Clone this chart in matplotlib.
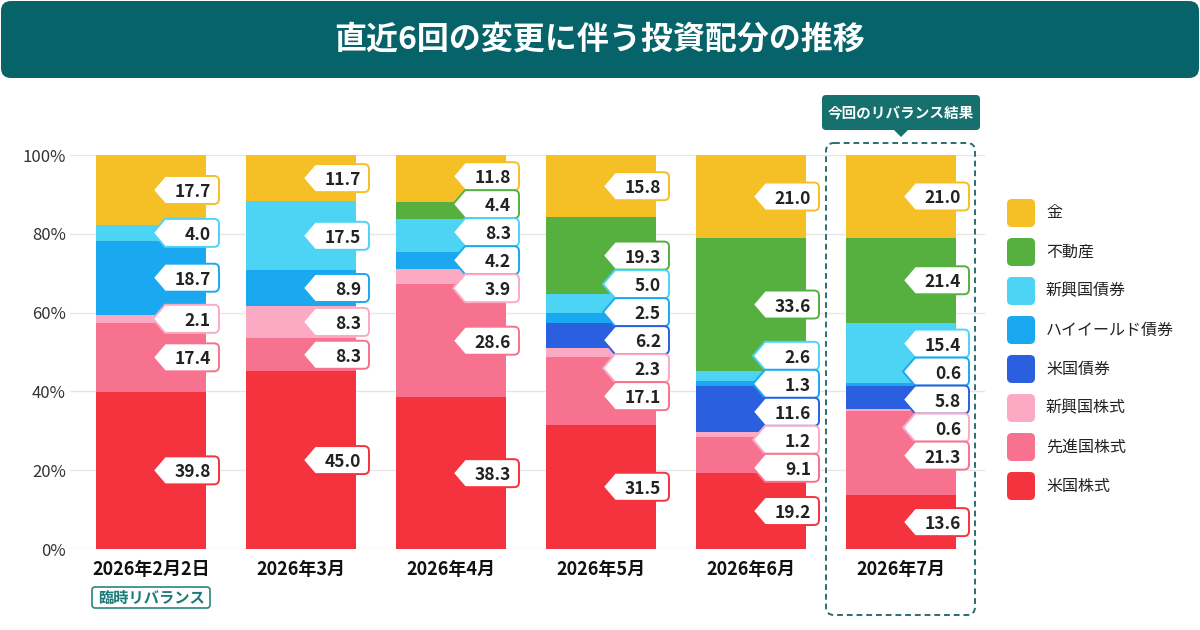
import numpy as np
import matplotlib.pyplot as plt
import matplotlib.transforms as mtransforms
from matplotlib.patches import FancyBboxPatch, PathPatch, Polygon
from matplotlib.path import Path

plt.rcParams['font.family'] = ['Noto Sans CJK JP', 'DejaVu Sans']

periods = ["2026年2月2日", "2026年3月", "2026年4月", "2026年5月", "2026年6月", "2026年7月"]

# bottom -> top
series = ["米国株式", "先進国株式", "新興国株式", "米国債券", "ハイイールド債券", "新興国債券", "不動産", "金"]
us_stock = [39.8, 45.0, 38.3, 31.5, 19.2, 13.6]
dev_stock = [17.4, 8.3, 28.6, 17.1, 9.1, 21.3]
em_stock = [2.1, 8.3, 3.9, 2.3, 1.2, 0.6]
us_bond = [0, 0, 0, 6.2, 11.6, 5.8]
hy_bond = [18.7, 8.9, 4.2, 2.5, 1.3, 0.6]
em_bond = [4.0, 17.5, 8.3, 5.0, 2.6, 15.4]
reit = [0, 0, 4.4, 19.3, 33.6, 21.4]
gold = [17.7, 11.7, 11.8, 15.8, 21.0, 21.0]
colors = ["#f5333f", "#f7728e", "#fca9c4", "#2a5fe0", "#1aa8f0", "#4dd4f5", "#55b040", "#f5bf26"]

values = np.array([us_stock, dev_stock, em_stock, us_bond, hy_bond, em_bond, reit, gold])
yticks = [0, 20, 40, 60, 80, 100]

W, H = 1200, 630
teal = "#06636a"
fig = plt.figure(figsize=(12, 6.3), dpi=100)
px = mtransforms.Affine2D().scale(1 / W, -1 / H).translate(0, 1) + fig.transFigure

ax_l, ax_r, ax_t, ax_b = 70, 985, 155, 549
ax = fig.add_axes([ax_l / W, 1 - ax_b / H, (ax_r - ax_l) / W, (ax_b - ax_t) / H])
ax.set_xlim(-0.54, 5.56)
ax.set_ylim(0, 100)
sx = (ax_r - ax_l) / 6.1   # px per x unit
sy = (ax_b - ax_t) / 100   # px per %

x = np.arange(len(periods))
heights = values / values.sum(axis=0) * 100
bottoms = np.vstack([np.zeros(len(periods)), np.cumsum(heights, axis=0)[:-1]])
for k in range(len(series)):
    ax.bar(x, heights[k], bottom=bottoms[k], width=110 / sx, color=colors[k], linewidth=0, zorder=2)

ax.set_yticks(yticks)
ax.set_yticklabels([f"{v}%" for v in yticks], fontsize=12, color="#333333")
ax.set_xticks(x)
ax.set_xticklabels(periods, fontsize=13, fontweight="bold", color="#111111")
ax.tick_params(axis="y", length=0, pad=3)
ax.tick_params(axis="x", length=0, pad=8)
ax.yaxis.grid(True, color="#e6e6e6", lw=1)
ax.set_axisbelow(True)
for s in ax.spines.values():
    s.set_visible(False)


def spread(centers, gap):
    idx = sorted(range(len(centers)), key=lambda i: centers[i])
    groups = [[i] for i in idx]

    def place(g):
        m = np.mean([centers[i] for i in g])
        return [m + (k - (len(g) - 1) / 2) * gap for k in range(len(g))]

    merged = True
    while merged:
        merged = False
        for j in range(len(groups) - 1):
            if place(groups[j + 1])[0] - place(groups[j])[-1] < gap:
                groups[j] = groups[j] + groups[j + 1]
                del groups[j + 1]
                merged = True
                break
    out = {}
    for g in groups:
        for i, p in zip(g, place(g)):
            out[i] = p
    return out


def tag(xr, yc, color, text):
    w, h, c, r = 66, 28, 12, 5
    verts = [(-w, 0), (-w + c, h / 2), (-r, h / 2), (0, h / 2), (0, h / 2 - r),
             (0, -h / 2 + r), (0, -h / 2), (-r, -h / 2), (-w + c, -h / 2), (-w, 0)]
    codes = [Path.MOVETO, Path.LINETO, Path.LINETO, Path.CURVE3, Path.CURVE3,
             Path.LINETO, Path.CURVE3, Path.CURVE3, Path.LINETO, Path.CLOSEPOLY]
    verts = [(xr + dx / sx, yc + dy / sy) for dx, dy in verts]
    ax.add_patch(PathPatch(Path(verts, codes), fc="white", ec=color, lw=1.4, zorder=5, clip_on=False))
    ax.text(xr - 8 / sx, yc, text, ha="right", va="center_baseline", fontsize=12.5,
            fontweight="bold", color="#222222", zorder=6, clip_on=False)


for j in range(len(periods)):
    ks = [k for k in range(len(series)) if values[k, j] > 0]
    centers = [bottoms[k, j] + heights[k, j] / 2 for k in ks]
    pos = spread(centers, 28 / sy)
    for n in reversed(range(len(ks))):
        k = ks[n]
        tag(x[j] + 68 / sx, pos[n], colors[k], f"{values[k, j]:.1f}")

# title banner
fig.add_artist(FancyBboxPatch((1, 1), 1198, 77, boxstyle="round,pad=0,rounding_size=10",
                              fc=teal, ec="none", transform=px))
fig.text(600, 40, "直近6回の変更に伴う投資配分の推移", transform=px, ha="center", va="center",
         fontsize=23, fontweight="bold", color="white")

# highlight of latest column
fig.add_artist(FancyBboxPatch((826, 143), 149, 472, boxstyle="round,pad=0,rounding_size=8",
                              fc="none", ec="#2d6e70", lw=1.4, ls=(0, (3, 2)), transform=px))
fig.add_artist(FancyBboxPatch((822, 95), 158, 35, boxstyle="round,pad=0,rounding_size=4",
                              fc="#15706e", ec="none", transform=px))
fig.add_artist(Polygon([(893, 129), (909, 129), (901, 137)], closed=True, fc="#15706e", ec="none",
                       transform=px))
fig.text(901, 112.5, "今回のリバランス結果", transform=px, ha="center", va="center",
         fontsize=10.5, fontweight="bold", color="white")

# badge under first period
fig.add_artist(FancyBboxPatch((92, 587), 118, 21, boxstyle="round,pad=0,rounding_size=3",
                              fc="white", ec="#2a8584", lw=1.2, transform=px))
fig.text(151, 597.5, "臨時リバランス", transform=px, ha="center", va="center", fontsize=11,
         fontweight="bold", color="#1d7b78")

# legend
for i, k in enumerate(reversed(range(len(series)))):
    yy = 213 + 39 * i
    fig.add_artist(FancyBboxPatch((1007, yy - 14), 28, 28, boxstyle="round,pad=0,rounding_size=5",
                                  fc=colors[k], ec="none", transform=px))
    fig.text(1046, yy, series[k], transform=px, ha="left", va="center", fontsize=11.5, color="#222222")

fig.savefig("out.png", dpi=100, facecolor="white")
